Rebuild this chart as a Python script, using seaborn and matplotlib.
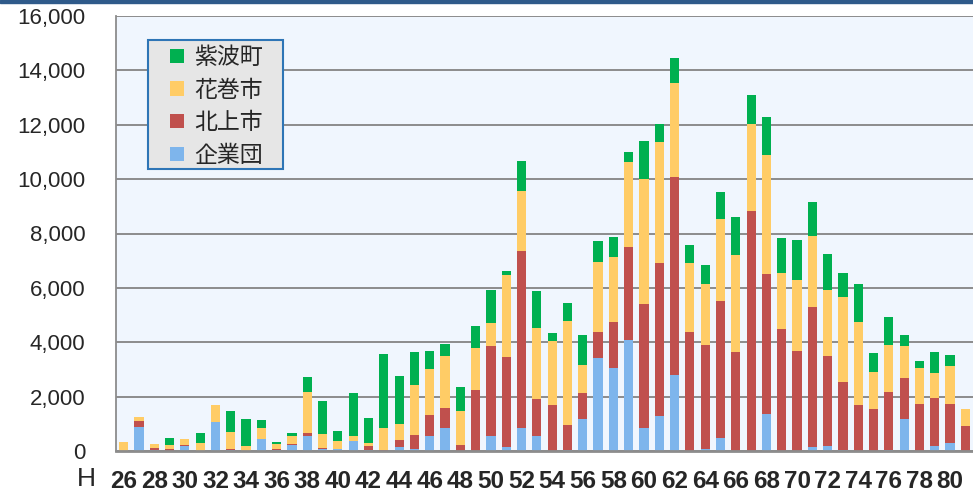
import numpy as np
import pandas as pd
import seaborn as sns
import matplotlib
matplotlib.use('Agg')
import matplotlib.pyplot as plt
from matplotlib.patches import Patch, Rectangle
from matplotlib.ticker import FuncFormatter, MultipleLocator

sns.set_style('white')
plt.rcParams['font.family'] = ['Liberation Sans', 'Noto Sans CJK JP', 'DejaVu Sans']

# years H26 - H81
years = list(range(26, 82))
kigyodan = [0, 870, 50, 0, 190, 0, 1080, 30, 0, 430, 20, 230, 560, 60, 70, 380, 30, 0, 150, 70,
            550, 840, 0, 0, 570, 150, 840, 550, 0, 30, 1170, 3410, 3055, 4100, 830, 1300, 2810, 0, 90, 490,
            0, 0, 1350, 0, 0, 160, 195, 50, 0, 0, 50, 1180, 0, 170, 280, 0]
kitakami = [0, 220, 60, 70, 30, 0, 0, 50, 0, 0, 40, 40, 90, 50, 20, 0, 150, 50, 270, 510,
            780, 740, 230, 2250, 3290, 3300, 6500, 1370, 1705, 915, 950, 960, 1695, 3400, 4580, 5630, 7265, 4390, 3810, 5010,
            3645, 8840, 5150, 4480, 3690, 5140, 3300, 2500, 1705, 1545, 2120, 1495, 1740, 1770, 1450, 910]
hanamaki = [340, 150, 160, 140, 210, 290, 600, 620, 200, 400, 185, 280, 1510, 530, 260, 170, 130, 800, 580, 1830,
            1700, 1930, 1230, 1550, 830, 3030, 2210, 2620, 2345, 3850, 1055, 2590, 2370, 3115, 4590, 4440, 3450, 2530, 2260, 3040,
            3580, 3205, 4375, 2050, 2615, 2600, 2440, 3105, 3045, 1375, 1730, 1190, 1330, 920, 1385, 650]
shiwa = [0, 0, 0, 260, 0, 370, 25, 760, 990, 295, 100, 100, 580, 1210, 390, 1580, 910, 2720, 1750, 1230,
         630, 430, 900, 800, 1220, 140, 1100, 1350, 295, 660, 1105, 750, 735, 390, 1390, 650, 930, 675, 690, 970,
         1400, 1055, 1420, 1300, 1450, 1275, 1315, 885, 1410, 700, 1020, 405, 245, 795, 430, 0]

series = ['企業団', '北上市', '花巻市', '紫波町']
colors = {'企業団': '#7EB5EC', '北上市': '#C0504D', '花巻市': '#FFCC66', '紫波町': '#00B050'}

df = pd.DataFrame({'year': [str(y) for y in years], '企業団': kigyodan, '北上市': kitakami,
                   '花巻市': hanamaki, '紫波町': shiwa})
cum = df[series].cumsum(axis=1)

fig = plt.figure(figsize=(9.73, 4.92), dpi=100)
ax = fig.add_axes([116/973, 41/492, 1 - 116/973, (451-16)/492])
ax.set_facecolor('#F0F6FE')

# draw stacked bars from the top layer down
for s in series[::-1]:
    sns.barplot(x=df['year'], y=cum[s], color=colors[s], width=0.6, ax=ax,
                order=df['year'], saturation=1, linewidth=0)

ax.set_ylim(0, 16000)
ax.set_xlim(-0.5, len(years) - 0.5)
ax.yaxis.set_major_locator(MultipleLocator(2000))
ax.yaxis.set_major_formatter(FuncFormatter(lambda v, p: f'{int(v):,}'))
ax.grid(axis='y', color='#8C8C8C', linewidth=1.4)
ax.set_axisbelow(True)

pos = np.arange(len(years))
ax.set_xticks(pos[::2])
ax.set_xticklabels([str(y) for y in years[::2]], fontsize=17.5, fontweight='bold')
ax.set_xticks(np.arange(-0.5, len(years)), minor=True)
ax.tick_params(axis='x', which='major', length=0, pad=14)
ax.tick_params(axis='x', which='minor', length=6, width=1.3, color='#8C8C8C')
ax.tick_params(axis='y', length=8, width=1.3, color='#8C8C8C', pad=14, labelsize=16)
ax.set_xlabel('')
ax.set_ylabel('')

for side in ['top', 'right']:
    ax.spines[side].set_visible(False)
ax.spines['left'].set_color('#8C8C8C')
ax.spines['left'].set_linewidth(1.3)
ax.spines['bottom'].set_color('#8C8C8C')
ax.spines['bottom'].set_linewidth(2)

fig.text(86/973, 1 - 479/492, 'H', fontsize=19, ha='center', va='center')

# legend box
fig.patches.append(Rectangle((148/973, 1 - 169/492), 135/973, 129/492, transform=fig.transFigure,
                             facecolor='#E6E6E6', edgecolor='#2E75B6', linewidth=1.5, zorder=5))
handles = [Patch(facecolor=colors[s], edgecolor='none', label=s) for s in series[::-1]]
leg = fig.legend(handles=handles, loc='upper left', bbox_to_anchor=(170/973, 1 - 46/492),
                 fontsize=16.5, frameon=False,
                 handlelength=0.6, handleheight=0.6, handletextpad=0.45, labelspacing=0.42,
                 borderpad=0, borderaxespad=0)
leg.set_zorder(6)

fig.patches.append(Rectangle((0, 1 - 3/492), 1, 3/492, transform=fig.transFigure,
                             color='#2F5A8A', zorder=10))

fig.savefig('out.png', dpi=100)
